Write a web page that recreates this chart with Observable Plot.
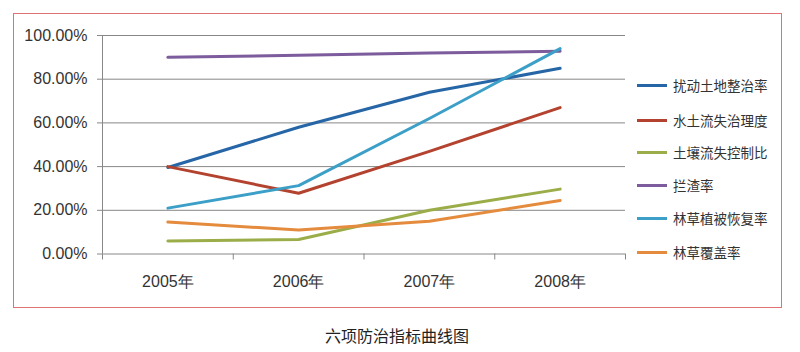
<!DOCTYPE html>
<html>
<head>
<meta charset="utf-8">
<script src="https://cdn.jsdelivr.net/npm/d3@7"></script>
<script src="https://cdn.jsdelivr.net/npm/@observablehq/plot@0.6"></script>
<style>
  html, body { margin: 0; padding: 0; background: #fff; }
  #wrap { position: relative; width: 800px; height: 352px; overflow: hidden; font-family: "Liberation Sans", Arial, sans-serif; }
  #frame { position: absolute; left: 13px; top: 13px; width: 767px; height: 293px; border: 1.5px solid #e07272; box-sizing: content-box; }
  #chart { position: absolute; left: 0; top: 0; }
  #legend { position: absolute; left: 637px; top: 0; }
  .lg { position: absolute; left: 0; width: 160px; height: 20px; display: flex; align-items: center; }
  .lg .sw { width: 30px; height: 3px; margin-right: 6px; }
  .lg .tx { font-family: "Noto Sans CJK SC", sans-serif; font-size: 13.5px; color: #333; white-space: nowrap; }
  #title { position: absolute; left: 0; width: 794px; top: 323px; text-align: center; font-family: "Noto Sans CJK SC", sans-serif; font-size: 16px; color: #222; }
</style>
</head>
<body>
<div id="wrap">
  <div id="frame"></div>
  <div id="chart"></div>
  <div id="legend"></div>
  <div id="title">六项防治指标曲线图</div>
</div>
<script>
// ---- data ----
const years = ["2005年", "2006年", "2007年", "2008年"];
const seriesNames = ["扰动土地整治率", "水土流失治理度", "土壤流失控制比", "拦渣率", "林草植被恢复率", "林草覆盖率"];
const seriesColors = ["#2666a6", "#b3432f", "#9aad48", "#7c5c9c", "#3c9fc7", "#e48b3e"];
const v扰动土地整治率 = [0.396, 0.58, 0.74, 0.85];
const v水土流失治理度 = [0.40, 0.278, 0.47, 0.67];
const v土壤流失控制比 = [0.06, 0.066, 0.20, 0.297];
const v拦渣率 = [0.90, 0.91, 0.92, 0.928];
const v林草植被恢复率 = [0.21, 0.313, 0.62, 0.94];
const v林草覆盖率 = [0.146, 0.11, 0.15, 0.245];
const yTicks = [0, 0.2, 0.4, 0.6, 0.8, 1.0];

const seriesValues = [v扰动土地整治率, v水土流失治理度, v土壤流失控制比, v拦渣率, v林草植被恢复率, v林草覆盖率];
const rows = [];
seriesNames.forEach((name, s) => {
  seriesValues[s].forEach((v, i) => rows.push({series: name, xi: i + 0.5, year: years[i], value: v}));
});
const boundaries = d3.range(0, years.length + 1);
const centers = years.map((_, i) => i + 0.5);

const chart = Plot.plot({
  width: 800,
  height: 310,
  marginLeft: 102,
  marginRight: 175,
  marginTop: 35,
  marginBottom: 56.5,
  style: { fontFamily: "Liberation Sans, Arial, sans-serif", fontSize: "16px", color: "#333", background: "transparent" },
  x: { type: "linear", domain: [0, years.length] },
  y: { domain: [0, 1] },
  color: { domain: seriesNames, range: seriesColors },
  marks: [
    Plot.gridY(yTicks, { stroke: "#888", strokeOpacity: 1, strokeWidth: 1 }),
    Plot.axisY(yTicks, { tickSize: 5, tickPadding: 10, tickFormat: d => (d * 100).toFixed(2) + "%", stroke: "#888", fill: "#333", label: null, fontSize: 16 }),
    Plot.ruleX([0], { y1: 0, y2: 1, stroke: "#888" }),
    Plot.axisX(boundaries, { tickSize: 6, tickFormat: () => "", stroke: "#888", label: null }),
    Plot.axisX(centers, { tickSize: 0, tickPadding: 22, tickFormat: d => years[Math.floor(d)], fill: "#333", label: null, fontSize: 16 }),
    Plot.line(rows, { x: "xi", y: "value", z: "series", stroke: "series", strokeWidth: 3, curve: "linear", strokeLinecap: "round", strokeLinejoin: "round" })
  ]
});
document.getElementById("chart").appendChild(chart);

// legend built from the same color scale
const legend = document.getElementById("legend");
const lgTop = [85, 120, 152, 185, 218, 252];
seriesNames.forEach((name, i) => {
  const item = document.createElement("div");
  item.className = "lg";
  item.style.top = (lgTop[i] - 10) + "px";
  const sw = document.createElement("div");
  sw.className = "sw";
  sw.style.background = chart.scale("color").apply(name);
  const tx = document.createElement("span");
  tx.className = "tx";
  tx.textContent = name;
  item.appendChild(sw); item.appendChild(tx);
  legend.appendChild(item);
});
</script>
</body>
</html>
